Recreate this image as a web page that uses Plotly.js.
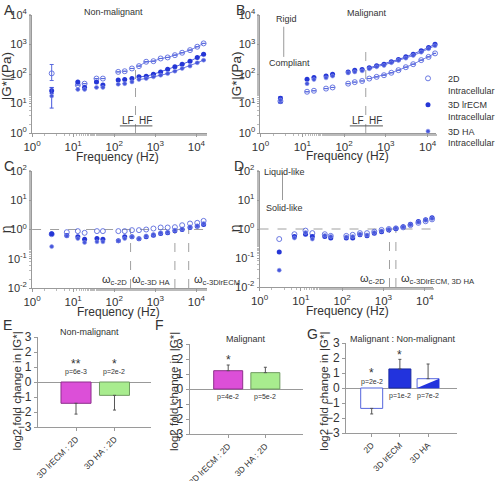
<!DOCTYPE html>
<html><head><meta charset="utf-8">
<script src="https://cdn.plot.ly/plotly-3.0.1.min.js"></script>
<style>html,body{margin:0;padding:0;background:#fff}#chart{width:500px;height:481px}</style>
</head><body><div id="chart"></div>
<script>
// ---------- DATA ----------
const freqG = [3,13,19,37,53,125,180,270,400,600,900,1350,2000,3000,4500,7000,10500,15000];
const freqEta = [3,7,13,19,38,53,126,180,270,400,600,900,1350,2000,3000,4500,7000,10500,15000];
const seriesNames = ['2D<br>Intracellular','3D lrECM<br>Intracellular','3D HA<br>Intracellular'];

// Panel A: |G*| non-malignant
const gNon2D    = [105,42,47,70,70,118,124,154,185,260,272,336,364,435,525,645,840,1090];
const gNonECM   = [27,54,35,54,42,62,65,70,80,84,98,118,145,175,215,272,364,470];
const gNonHA    = [18,30,30,35,35,45,47,54,65,70,80,91,103,125,154,185,240,295];
const errNonUp   = [105,7,17];   // 3 Hz error (2D, lrECM, HA)
const errNonDown = [45,5,11];

// Panel B: |G*| malignant
const gMal2D    = [12,25,27,32,35,47,53,58,70,80,91,110,135,170,215,295,380,500];
const gMalECM   = [15,67,76,85,99,118,135,142,162,190,215,260,310,382,470,615,795,1025];
const gMalHA    = [13,47,65,74,85,109,118,128,150,175,195,240,288,345,425,550,720,910];
const errMalUp   = [2,2,2];
const errMalDown = [2,4,2];

// Panel C: eta non-malignant
const etaNon2D  = [0.69,0.81,0.88,0.77,0.88,0.88,0.88,0.88,0.95,0.95,1.0,1.08,1.17,1.17,1.2,1.4,1.6,1.69,1.97];
const etaNonECM = [0.72,0.62,0.56,0.46,0.49,0.46,0.41,0.56,0.56,0.48,0.56,0.64,0.73,0.77,0.9,1.0,1.17,1.3,1.48];
const etaNonHA  = [0.26,0.6,0.49,0.36,0.38,0.38,0.41,0.49,0.56,0.48,0.6,0.68,0.77,0.81,0.95,1.05,1.23,1.33,1.6];

// Panel D: eta malignant
const etaMal2D  = [0.45,0.66,0.88,0.72,0.66,0.58,0.58,0.63,0.72,0.72,0.81,0.93,1.0,1.05,1.14,1.36,1.63,1.85,2.15];
const etaMalECM = [0.16,0.55,0.66,0.55,0.55,0.49,0.49,0.49,0.63,0.58,0.72,0.81,0.93,1.05,1.2,1.47,1.8,2.1,2.45];
const etaMalHA  = [0.038,0.49,0.75,0.45,0.6,0.55,0.53,0.55,0.66,0.62,0.76,0.86,0.96,1.08,1.17,1.42,1.72,2.0,2.3];

// crossover frequencies
const crossNon = [250, 3000, 6500];
const crossNonLabels = ['c-2D','c-3D HA','c-3DlrECM'];
const crossMal = [1400, 2000];
const crossMalLabels = ['c-2D','c-3DlrECM, 3D HA'];
const lfHfBoundary = 330;
const lfHfSpan = [137, 850];
const hfStart = 400;

// Bar panels
const catsE = ['3D lrECM : 2D','3D HA : 2D'];
const valsE = [-1.42,-0.89];
const errE  = [0.72,0.98];
const sigE  = ['**','*'];
const pE    = ['p=6e-3','p=2e-2'];

const catsF = ['3D lrECM : 2D','3D HA : 2D'];
const valsF = [1.22,1.09];
const errF  = [0.38,0.36];
const sigF  = ['*',''];
const pF    = ['p=4e-2','p=5e-2'];

const catsG = ['2D','3D lrECM','3D HA'];
const valsG = [-1.36,1.27,0.62];
const errG  = [0.37,0.64,0.98];
const sigG  = ['*','*',''];
const pG    = ['p=2e-2','p=1e-2','p=7e-2'];

// ---------- STYLE ----------
const FONT = 'Liberation Sans, Arial, sans-serif';
const TXT = '#333';
const AX = '#9a9a9a';
const blueDark = '#2536d6', blueOpen = '#5a6ade', blueHA = '#4656dc';
const W = 500, H = 481;
const px = v => v / W, py = v => 1 - v / H;
const lg = Math.log10;

const styles = [
  {symbol:'circle-open', size:5, color:blueOpen, line:{width:0.9, color:blueOpen}},
  {symbol:'circle', size:5, color:blueDark, line:{width:0}},
  {symbol:'circle', size:4, color:blueHA, line:{width:0.6, color:'#8a96ea'}}
];
const lineColors = [blueOpen, blueDark, blueHA];

const traces = [];
const guide = {color:'#a0a0a0', width:1, dash:'dash'};
function guideLine(xa, ya, xs, ys, line) {
  traces.push({type:'scatter', mode:'lines', x:xs, y:ys, xaxis:xa, yaxis:ya, showlegend:false,
    line: line, hoverinfo:'skip', cliponaxis:false});
}

function addG(xa, ya, freq, sets, errUp, errDown, legend) {
  sets.forEach((vals, k) => {
    traces.push({
      type:'scatter', mode:'markers', x:freq, y:vals, xaxis:xa, yaxis:ya,
      name: seriesNames[k], showlegend: legend, legendrank: k,
      marker: styles[k], cliponaxis:false,
      error_y: {type:'data', symmetric:false, color:lineColors[k], thickness:1, width:2,
        array: freq.map((f,i)=> i===0 ? errUp[k] : null),
        arrayminus: freq.map((f,i)=> i===0 ? errDown[k] : null)}
    });
    const hx = [], hy = [];
    freq.forEach((f,i)=>{ if (f >= hfStart) { hx.push(f); hy.push(vals[i]); } });
    traces.push({type:'scatter', mode:'lines', x:hx, y:hy, xaxis:xa, yaxis:ya, showlegend:false,
      line:{color:lineColors[k], width:0.8}, hoverinfo:'skip'});
  });
}
function addEta(xa, ya, freq, sets) {
  sets.forEach((vals, k) => {
    traces.push({type:'scatter', mode:'markers', x:freq, y:vals, xaxis:xa, yaxis:ya,
      showlegend:false, marker: styles[k], cliponaxis:false});
  });
}

// guides (drawn first, under markers)
guideLine('x','y', [lfHfBoundary, lfHfBoundary], [1, 220], guide);
guideLine('x','y', lfHfSpan, [1.74, 1.74], {color:'#555', width:1});
guideLine('x2','y2', [lfHfBoundary, lfHfBoundary], [1, 800], guide);
guideLine('x2','y2', lfHfSpan, [1.74, 1.74], {color:'#555', width:1});
guideLine('x2','y2', [3.6, 3.6], [380, 4000], {color:'#999', width:1});
guideLine('x4','y4', [3.6, 3.6], [10, 90], {color:'#999', width:1});
guideLine('x3','y3', [1, Math.pow(10,4.25)], [1, 1], guide);
guideLine('x4','y4', [1, Math.pow(10,4.2)], [1, 1], guide);
crossNon.forEach(c => guideLine('x3','y3', [c, c], [0.01, 1], guide));
crossMal.forEach(c => guideLine('x4','y4', [c, c], [0.01, 1], guide));

addG('x','y', freqG, [gNon2D, gNonECM, gNonHA], errNonUp, errNonDown, true);
addG('x2','y2', freqG, [gMal2D, gMalECM, gMalHA], errMalUp, errMalDown, false);
addEta('x3','y3', freqEta, [etaNon2D, etaNonECM, etaNonHA]);
addEta('x4','y4', freqEta, [etaMal2D, etaMalECM, etaMalHA]);

const barW = 0.78;
function addBars(xa, ya, vals, err, fills, lines) {
  traces.push({type:'bar', x: vals.map((v,i)=>i), y: vals, xaxis:xa, yaxis:ya, width: barW,
    showlegend:false, marker:{color:fills, line:{color:lines, width:1}},
    error_y:{type:'data', symmetric:false, color:'#555', thickness:1, width:1.5,
      array: vals.map((v,i)=> v >= 0 ? err[i] : 0),
      arrayminus: vals.map((v,i)=> v < 0 ? err[i] : 0)}});
}
addBars('x5','y5', valsE, errE, ['#dc4fd8','#a8ec8e'], ['#8e2f8c','#6f9a60']);
addBars('x6','y6', valsF, errF, ['#dc4fd8','#a8ec8e'], ['#8e2f8c','#6f9a60']);
addBars('x7','y7', valsG, errG, ['#ffffff','#2233dd','#ffffff'], ['#5566dd','#1a2aa0','#5566dd']);
{
  const i = 2, v = valsG[i], h = barW/2;
  traces.push({type:'scatter', mode:'lines', xaxis:'x7', yaxis:'y7', showlegend:false,
    x:[i-h, i+h, i+h, i-h], y:[0, 0, v, 0], fill:'toself', fillcolor:'#2233dd',
    line:{width:0, color:'#2233dd'}, hoverinfo:'skip'});
}

// ---------- AXES ----------
function decTicks(lo, hi) {
  const v = [], t = [];
  for (let e = lo; e <= hi; e++) { v.push(Math.pow(10,e)); t.push('10<sup>' + e + '</sup>'); }
  return {tickvals:v, ticktext:t};
}
function logAx(domain, range, lo, hi, anchor, isY) {
  const d = decTicks(lo, hi);
  return {type:'log', domain, range, anchor, tickmode:'array',
    tickvals:d.tickvals, ticktext:d.ticktext, showline:true, linecolor:AX, linewidth:1,
    ticks:'outside', ticklen: isY ? 2 : 3, tickcolor:AX, showgrid:false, zeroline:false,
    tickfont:{size: isY ? 11 : 11.5, color:TXT, family:FONT},
    minor:{ticks:'outside', ticklen:2, tickcolor:'#bbb', showgrid:false}};
}
function barY(domain, anchor) {
  return {domain, range:[-3,3], anchor, tickvals:[-3,-2,-1,0,1,2,3], showline:true,
    linecolor:AX, ticks:'outside', ticklen:3, tickcolor:AX, showgrid:false,
    zeroline:true, zerolinecolor:'#999', zerolinewidth:1,
    tickfont:{size:12, color:TXT, family:FONT}};
}
function barX(domain, range, cats, anchor) {
  return {domain, range, anchor, tickmode:'array', tickvals:cats.map((c,i)=>i), ticktext:cats,
    tickangle:-45, showline:true, linecolor:AX, ticks:'outside', ticklen:3, tickcolor:AX,
    showgrid:false, zeroline:false, tickfont:{size:8.5, color:TXT, family:FONT}};
}

const layout = {
  width:W, height:H, margin:{l:0,r:0,t:0,b:0}, paper_bgcolor:'#fff', plot_bgcolor:'#fff',
  font:{family:FONT, color:TXT}, showlegend:true, bargap:0,
  legend:{x:px(420), y:py(66), xanchor:'left', yanchor:'top', font:{size:9, color:TXT, family:FONT},
    bgcolor:'rgba(0,0,0,0)', valign:'top', tracegroupgap:0, itemwidth:30},
  xaxis:  logAx([px(33), px(212.6)], [0,4.25], 0, 4, 'y', false),
  yaxis:  logAx([py(133), py(15)], [0,4], 0, 4, 'x', true),
  xaxis2: logAx([px(268), px(448.6)], [0,4.2], 0, 4, 'y2', false),
  yaxis2: logAx([py(133), py(15)], [0,4], 0, 4, 'x2', true),
  xaxis3: logAx([px(33), px(212.6)], [0,4.25], 0, 4, 'y3', false),
  yaxis3: logAx([py(288), py(171)], [-2,2], -2, 2, 'x3', true),
  xaxis4: logAx([px(267), px(445.5)], [0,4.2], 0, 4, 'y4', false),
  yaxis4: logAx([py(287), py(171)], [-2,2], -2, 2, 'x4', true),
  xaxis5: barX([px(39), px(155)], [-0.99,1.94], catsE, 'y5'),
  yaxis5: barY([py(427), py(337)], 'x5'),
  xaxis6: barX([px(195), px(312)], [-1.04,2.02], catsF, 'y6'),
  yaxis6: barY([py(434), py(344)], 'x6'),
  xaxis7: barX([px(356), px(470)], [-0.91,3.02], catsG, 'y7'),
  yaxis7: barY([py(433), py(343)], 'x7'),
  annotations:[]
};

const A = layout.annotations;
const note = (xa, ya, x, y, text, size, extra) =>
  A.push(Object.assign({xref:xa, yref:ya, x, y, text, showarrow:false, xanchor:'center', yanchor:'middle',
    font:{size, color:TXT, family:FONT}}, extra || {}));

// LF/HF labels
['x','x2'].forEach((xa,i)=>{
  const ya = i ? 'y2' : 'y';
  note(xa, ya, lg(215), 0.43, 'LF', 10);
  note(xa, ya, lg(570), 0.43, 'HF', 10);
});
note('x2','y2', lg(4.2), 3.85, 'Rigid', 9);
note('x2','y2', lg(5), 2.38, 'Compliant', 9);
note('x4','y4', lg(4.1), 1.97, 'Liquid-like', 9);
note('x4','y4', lg(4.1), 0.72, 'Solid-like', 9);
// omega labels
const ancNon = ['right','right','left'], ancMal = ['right','left'];
crossNon.forEach((c,i)=> note('x3','y3', lg(c), -1.72, 'ω<sub>' + crossNonLabels[i] + '</sub>', 11,
  {xanchor:ancNon[i], xshift: ancNon[i]==='right' ? -2 : 3}));
crossMal.forEach((c,i)=> note('x4','y4', lg(c), -1.72, 'ω<sub>' + crossMalLabels[i] + '</sub>', 11,
  {xanchor:ancMal[i], xshift: ancMal[i]==='right' ? -2 : 3}));

// Bar annotations
note('x5','y5', 0, 1.2, sigE[0], 12); note('x5','y5', 1, 1.2, sigE[1], 12);
note('x5','y5', 0, 0.65, pE[0], 7);   note('x5','y5', 1, 0.65, pE[1], 7);
note('x6','y6', 0, valsF[0]+errF[0]+0.35, sigF[0], 12);
note('x6','y6', 0, -0.55, pF[0], 7);  note('x6','y6', 1, -0.55, pF[1], 7);
note('x7','y7', 0, 1.0, sigG[0], 12); note('x7','y7', 0, 0.42, pG[0], 7);
note('x7','y7', 1, valsG[1]+errG[1]+0.3, sigG[1], 12);
note('x7','y7', 1, -0.55, pG[1], 7);  note('x7','y7', 2, -0.55, pG[2], 7);

// Axis titles (paper)
const P = 'paper';
[[121,157],[357,156],[122,312],[357,311]].forEach(([x,y])=> note(P,P, px(x), py(y), 'Frequency (Hz)', 12));
note(P,P, px(6.5), py(76), '|G*|(Pa)', 13.5, {textangle:-90});
note(P,P, px(242.5), py(76), '|G*|(Pa)', 13.5, {textangle:-90});
note(P,P, px(6.5), py(229), 'η', 14, {textangle:-90});
note(P,P, px(242), py(228), 'η', 14, {textangle:-90});
[17, 179, 333].forEach(x => note(P,P, px(x), py(391), 'log2 fold change in |G*|', 11.5, {textangle:-90}));

// Panel letters and titles
[['A',9,10],['B',247,10],['C',9,166],['D',246,166],['E',8,325],['F',164,325],['G',322,334]].forEach(([t,x,y])=>
  note(P,P, px(x), py(y), t, 14));
[['Non-malignant',117,12],['Malignant',378,13],['Non-malignant',92,332],['Malignant',253,339],['Malignant : Non-malignant',415,339]].forEach(([t,x,y])=>
  note(P,P, px(x), py(y), t, 9));

Plotly.newPlot('chart', traces, layout, {staticPlot:true, displayModeBar:false});
</script>
</body></html>
